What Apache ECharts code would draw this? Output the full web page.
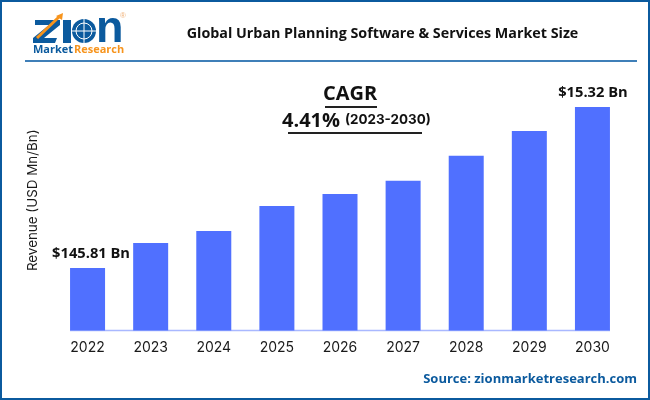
<!DOCTYPE html>
<html>
<head>
<meta charset="utf-8">
<style>
html, body { margin: 0; padding: 0; background: #fff; }
#chart { width: 650px; height: 400px; }
</style>
<script src="https://cdn.jsdelivr.net/npm/echarts@6/dist/echarts.min.js"></script>
</head>
<body>
<div id="chart"></div>
<script>
// values, scaled from the 2022 label
var years = ['2022', '2023', '2024', '2025', '2026', '2027', '2028', '2029', '2030'];
var revenue = [145.81, 204, 232, 290, 318, 349, 407, 465, 521];
var barLabels = { 0: '$145.81 Bn', 8: '$15.32 Bn' };

var BLUE = '#0b5a9e';
var ORANGE = '#f7941d';

var myChart = echarts.init(document.getElementById('chart'), null, { renderer: 'canvas' });

// logo, frame and the CAGR note
var graphic = [
    { type: 'rect', shape: { x: 1, y: 1, width: 648, height: 398 }, style: { fill: 'none', stroke: BLUE, lineWidth: 2 } },
    { type: 'line', shape: { x1: 25, y1: 61, x2: 637, y2: 61 }, style: { stroke: '#3f7fb8', lineWidth: 2 } },
    { type: 'line', shape: { x1: 70, y1: 330.5, x2: 610, y2: 330.5 }, style: { stroke: '#a9b8ff', lineWidth: 1.5 } },

    // logo
    { type: 'polygon', shape: { points: [[35, 20], [60, 20], [60, 25], [44, 38], [57, 38], [55, 43], [33, 43], [33, 38], [49, 25], [35, 25]] }, style: { fill: BLUE } },
    { type: 'line', shape: { x1: 37, y1: 38, x2: 60, y2: 16 }, style: { stroke: ORANGE, lineWidth: 3 } },
    { type: 'polygon', shape: { points: [[56, 16], [63, 13], [62, 20]] }, style: { fill: ORANGE } },
    { type: 'rect', shape: { x: 63, y: 20, width: 8, height: 23 }, style: { fill: BLUE } },
    { type: 'circle', shape: { cx: 84, cy: 31, r: 12 }, style: { fill: BLUE } },
    { type: 'circle', shape: { cx: 84, cy: 31, r: 8 }, style: { fill: 'none', stroke: '#fff', lineWidth: 1 } },
    { type: 'line', shape: { x1: 72, y1: 31, x2: 96, y2: 31 }, style: { stroke: '#fff', lineWidth: 1 } },
    { type: 'line', shape: { x1: 84, y1: 19, x2: 84, y2: 43 }, style: { stroke: '#fff', lineWidth: 1 } },
    { type: 'text', style: { x: 96, y: 7, text: 'n', fill: BLUE, font: 'bold 45px "Liberation Sans"' } },
    { type: 'text', style: { x: 120, y: 12, text: '®', fill: '#f0b27a', font: '8px "Liberation Sans"' } },
    { type: 'text', style: { x: 33, y: 44, text: 'Market', fill: BLUE, font: 'bold 11px "Open Sans"' } },
    { type: 'text', style: { x: 74, y: 44, text: 'Research', fill: ORANGE, font: 'bold 11px "Open Sans"' } },

    // CAGR
    { type: 'text', style: { x: 350, y: 94, text: 'CAGR', align: 'center', verticalAlign: 'middle', fill: '#111', font: 'bold 20px "Open Sans"', shadowBlur: 3, shadowColor: 'rgba(0,0,0,0.35)' } },
    { type: 'line', shape: { x1: 325, y1: 107, x2: 377, y2: 107 }, style: { stroke: '#222', lineWidth: 2 } },
    { type: 'text', style: { x: 282, y: 121, text: '4.41%', verticalAlign: 'middle', fill: '#111', font: 'bold 20px "Open Sans"', shadowBlur: 3, shadowColor: 'rgba(0,0,0,0.35)' } },
    { type: 'text', style: { x: 345, y: 120, text: '(2023-2030)', verticalAlign: 'middle', fill: '#111', font: 'bold 13.4px "Inter"', shadowBlur: 2, shadowColor: 'rgba(0,0,0,0.3)' } },
    { type: 'line', shape: { x1: 288, y1: 133, x2: 422, y2: 133 }, style: { stroke: '#222', lineWidth: 2 } }
];

var option = {
    animation: false,
    title: {
        text: 'Global Urban Planning Software & Services Market Size',
        left: 377.5,
        top: 22,
        textAlign: 'center',
        textStyle: { fontFamily: 'Open Sans', fontSize: 14.3, fontWeight: 'bold', color: '#111' }
    },
    grid: { left: 56, right: 26, top: 70, bottom: 69.5 },
    xAxis: {
        type: 'category',
        data: years,
        axisLine: { show: false },
        axisTick: { show: false },
        axisLabel: { fontFamily: 'Inter', fontSize: 14, color: '#1a1a1a', margin: 10 }
    },
    yAxis: {
        type: 'value',
        min: 0,
        max: 607,
        name: 'Revenue (USD Mn/Bn)',
        nameLocation: 'middle',
        nameGap: 17,
        nameTextStyle: { fontFamily: 'Inter', fontSize: 13.4, color: '#1a1a1a' },
        axisLine: { show: false },
        axisTick: { show: false },
        axisLabel: { show: false },
        splitLine: { show: false }
    },
    series: [{
        type: 'bar',
        barWidth: 35,
        itemStyle: { color: '#5070ff' },
        data: revenue.map(function (v, i) {
            return {
                value: v,
                label: {
                    show: barLabels[i] !== undefined,
                    formatter: barLabels[i] || '',
                    position: 'top',
                    distance: 7,
                    offset: [i === 0 ? 3.5 : 0.5, 0],
                    fontFamily: 'Open Sans',
                    fontSize: 14.7,
                    fontWeight: 'bold',
                    color: '#111'
                }
            };
        })
    }],
    graphic: graphic.concat([
        { type: 'text', style: { x: 637, y: 379, text: 'Source: zionmarketresearch.com', align: 'right', verticalAlign: 'middle', fill: BLUE, font: 'bold 13px "Open Sans"' } }
    ])
};

myChart.setOption(option);
</script>
</body>
</html>
